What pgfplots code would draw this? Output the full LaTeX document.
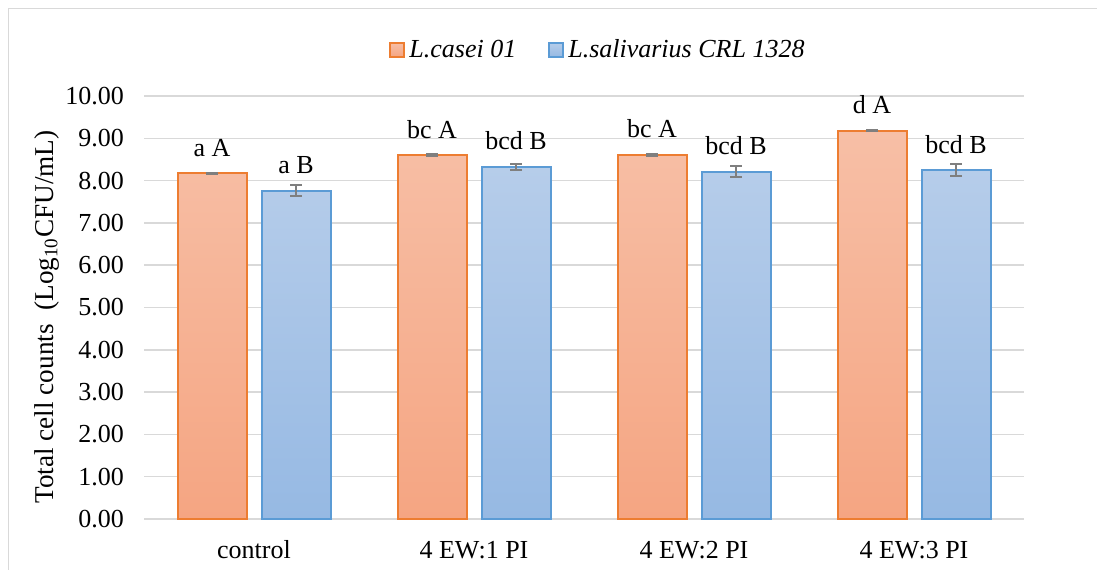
\documentclass[border=0pt]{standalone}
\usepackage{pgfplots}
\pgfplotsset{compat=1.18}
\usepackage{pgfplotstable}
\usepackage{fontspec}
\setmainfont{Liberation Serif}
\definecolor{orEdge}{HTML}{ED7D31}
\definecolor{orTop}{HTML}{F7BFA6}
\definecolor{orBot}{HTML}{F5A582}
\definecolor{blEdge}{HTML}{5B9BD5}
\definecolor{blTop}{HTML}{B6CDEA}
\definecolor{blBot}{HTML}{96B9E3}
\definecolor{gridc}{HTML}{D9D9D9}
\definecolor{errc}{HTML}{7F7F7F}
\definecolor{framec}{HTML}{D9D9D9}

\pgfplotstableread[col sep=comma]{
x,y,e,lab
0,8.17,0.01,a A
1,8.60,0.02,bc A
2,8.61,0.02,bc A
3,9.18,0.01,d A
}\casei

\pgfplotstableread[col sep=comma]{
x,y,e,lab
0,7.76,0.13,a B
1,8.33,0.07,bcd B
2,8.21,0.13,bcd B
3,8.25,0.15,bcd B
}\saliv

\begin{document}
\begin{tikzpicture}[x=1pt,y=1pt]
\useasboundingbox (0,0) rectangle (548.5,284.5);
\draw[framec, line width=0.75pt] (4.25,-2) -- (4.25,280.25) -- (552,280.25);
\node[rotate=90, anchor=base, inner sep=0pt, font=\fontsize{13.6}{16}\selectfont] at (26.5,126) {Total cell counts\ \ (Log\textsubscript{10}CFU/mL)};
\begin{axis}[
  at={(72pt,25pt)}, anchor=south west,
  scale only axis, width=440pt, height=211.5pt,
  ymin=0, ymax=10, ytick={0,1,...,10},
  xmin=-0.5, xmax=3.5, xtick={0,1,2,3},
  xticklabels={control,4 EW:1 PI,4 EW:2 PI,4 EW:3 PI},
  axis line style={draw=none}, major tick length=0pt,
  ymajorgrids, grid style={gridc, line width=0.75pt},
  /pgf/number format/assume math mode=true,
  tick label style={font=\fontsize{13}{15}\selectfont, black},
  yticklabel style={/pgf/number format/fixed, /pgf/number format/fixed zerofill, /pgf/number format/precision=2, xshift=-6.5pt},
  xticklabel style={anchor=base, yshift=-19.5pt},
  ybar=7.5pt, bar width=34.5pt,
  every axis plot post/.append style={legend image code/.code={\draw[##1, line width=1pt] (-3pt,-3.5pt) rectangle (4pt,3.5pt);}},
  legend style={at={(0.517,1.109)}, anchor=center, draw=none, fill=none, legend columns=2,
    font=\itshape\fontsize{13}{15}\selectfont,
    /tikz/every even column/.append style={column sep=14pt}},
  nodes near coords, point meta=explicit symbolic,
  every node near coord/.append style={anchor=base, yshift=8.5pt, font=\fontsize{13}{15}\selectfont, text=black},
  error bars/y dir=both, error bars/y explicit,
  error bars/error bar style={errc, line width=1pt},
  error bars/error mark options={rotate=90, errc, mark size=3pt, line width=1pt},
]
\addplot[draw=orEdge, line width=1pt, top color=orTop, bottom color=orBot] table[x=x, y=y, y error=e, meta=lab] {\casei};
\addplot[draw=blEdge, line width=1pt, top color=blTop, bottom color=blBot] table[x=x, y=y, y error=e, meta=lab] {\saliv};
\legend{L.casei 01, L.salivarius CRL 1328}
\end{axis}
\end{tikzpicture}
\end{document}
